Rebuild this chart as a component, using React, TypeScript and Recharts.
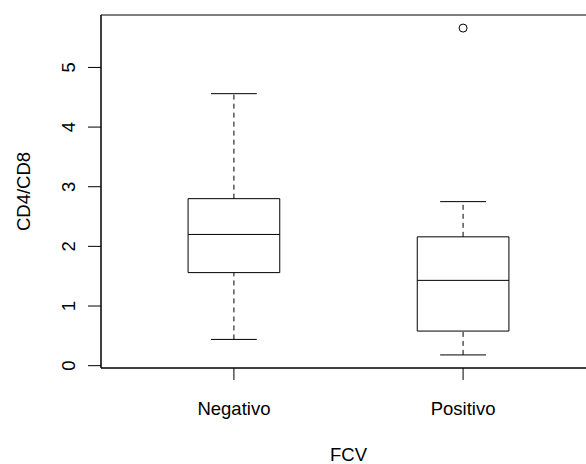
import {
  ComposedChart,
  XAxis,
  YAxis,
  ReferenceArea,
  ReferenceLine,
  Scatter,
} from "recharts";

const groups = ["Negativo", "Positivo"];
const lowerWhisker = [0.44, 0.18];
const q1 = [1.56, 0.58];
const median = [2.2, 1.43];
const q3 = [2.8, 2.16];
const upperWhisker = [4.56, 2.75];
const outliers = [{ x: 2, y: 5.66 }];
const yTicks = [0, 1, 2, 3, 4, 5];

const font = "'Liberation Sans', Arial, sans-serif";
const ink = "#000";

// R-style axis limits: data range padded by 4% on each side
const allValues = [...lowerWhisker, ...upperWhisker, ...outliers.map((o) => o.y)];
const lo = Math.min(...allValues);
const hi = Math.max(...allValues);
const pad = (hi - lo) * 0.04;
const yDomain = [lo - pad, hi + pad];
const xDomain = [0.42, 2.58];

const XTick = (props: any) => {
  const { x, y, payload } = props;
  return (
    <text x={x} y={y + 33} textAnchor="middle" fontSize={18.5} fontFamily={font} fill={ink}>
      {groups[payload.value - 1]}
    </text>
  );
};

const YTick = (props: any) => {
  const { x, y, payload } = props;
  const bx = x - 11;
  return (
    <text
      x={bx}
      y={y}
      transform={`rotate(-90, ${bx}, ${y})`}
      textAnchor="middle"
      fontSize={18.5}
      fontFamily={font}
      fill={ink}
    >
      {payload.value}
    </text>
  );
};

export default function App() {
  const boxHalf = 0.2;
  const capHalf = 0.1;
  const marks: any[] = [];
  groups.forEach((g, i) => {
    const cx = i + 1;
    marks.push(
      <ReferenceLine
        key={`wl${i}`}
        segment={[{ x: cx, y: lowerWhisker[i] }, { x: cx, y: q1[i] }]}
        stroke={ink}
        strokeDasharray="5 4"
      />,
      <ReferenceLine
        key={`wu${i}`}
        segment={[{ x: cx, y: q3[i] }, { x: cx, y: upperWhisker[i] }]}
        stroke={ink}
        strokeDasharray="5 4"
      />,
      <ReferenceLine
        key={`cl${i}`}
        segment={[{ x: cx - capHalf, y: lowerWhisker[i] }, { x: cx + capHalf, y: lowerWhisker[i] }]}
        stroke={ink}
      />,
      <ReferenceLine
        key={`cu${i}`}
        segment={[{ x: cx - capHalf, y: upperWhisker[i] }, { x: cx + capHalf, y: upperWhisker[i] }]}
        stroke={ink}
      />,
      <ReferenceArea
        key={`b${i}`}
        x1={cx - boxHalf}
        x2={cx + boxHalf}
        y1={q1[i]}
        y2={q3[i]}
        fill="#fff"
        fillOpacity={1}
        stroke={ink}
      />,
      <ReferenceLine
        key={`m${i}`}
        segment={[{ x: cx - boxHalf, y: median[i] }, { x: cx + boxHalf, y: median[i] }]}
        stroke={ink}
      />
    );
  });

  return (
    <div
      style={{
        position: "absolute",
        left: 0,
        top: 0,
        width: 586,
        height: 464,
        overflow: "hidden",
        background: "#fff",
      }}
    >
      <ComposedChart width={600} height={464} margin={{ top: 15, right: 4, bottom: 0, left: 0 }}>
        <XAxis
          type="number"
          dataKey="x"
          domain={xDomain}
          ticks={[1, 2]}
          allowDataOverflow
          height={96}
          tickSize={12}
          stroke={ink}
          tick={<XTick />}
          label={{
            content: (p: any) => (
              <text
                x={p.viewBox.x + p.viewBox.width / 2}
                y={p.viewBox.y + 93}
                textAnchor="middle"
                fontSize={18.5}
                fontFamily={font}
                fill={ink}
              >
                FCV
              </text>
            ),
          }}
        />
        <YAxis
          type="number"
          dataKey="y"
          domain={yDomain}
          ticks={yTicks}
          allowDataOverflow
          width={101}
          tickSize={13}
          stroke={ink}
          tick={<YTick />}
          label={{
            content: (p: any) => {
              const cy = p.viewBox.y + p.viewBox.height / 2;
              return (
                <text
                  x={30}
                  y={cy}
                  transform={`rotate(-90, 30, ${cy})`}
                  textAnchor="middle"
                  fontSize={18.5}
                  fontFamily={font}
                  fill={ink}
                >
                  CD4/CD8
                </text>
              );
            },
          }}
        />
        <ReferenceArea
          x1={xDomain[0]}
          x2={xDomain[1]}
          y1={yDomain[0]}
          y2={yDomain[1]}
          fill="none"
          stroke={ink}
          ifOverflow="visible"
        />
        {marks}
        <Scatter
          data={outliers}
          isAnimationActive={false}
          shape={(p: any) => <circle cx={p.cx} cy={p.cy} r={4} fill="none" stroke={ink} />}
        />
      </ComposedChart>
    </div>
  );
}
